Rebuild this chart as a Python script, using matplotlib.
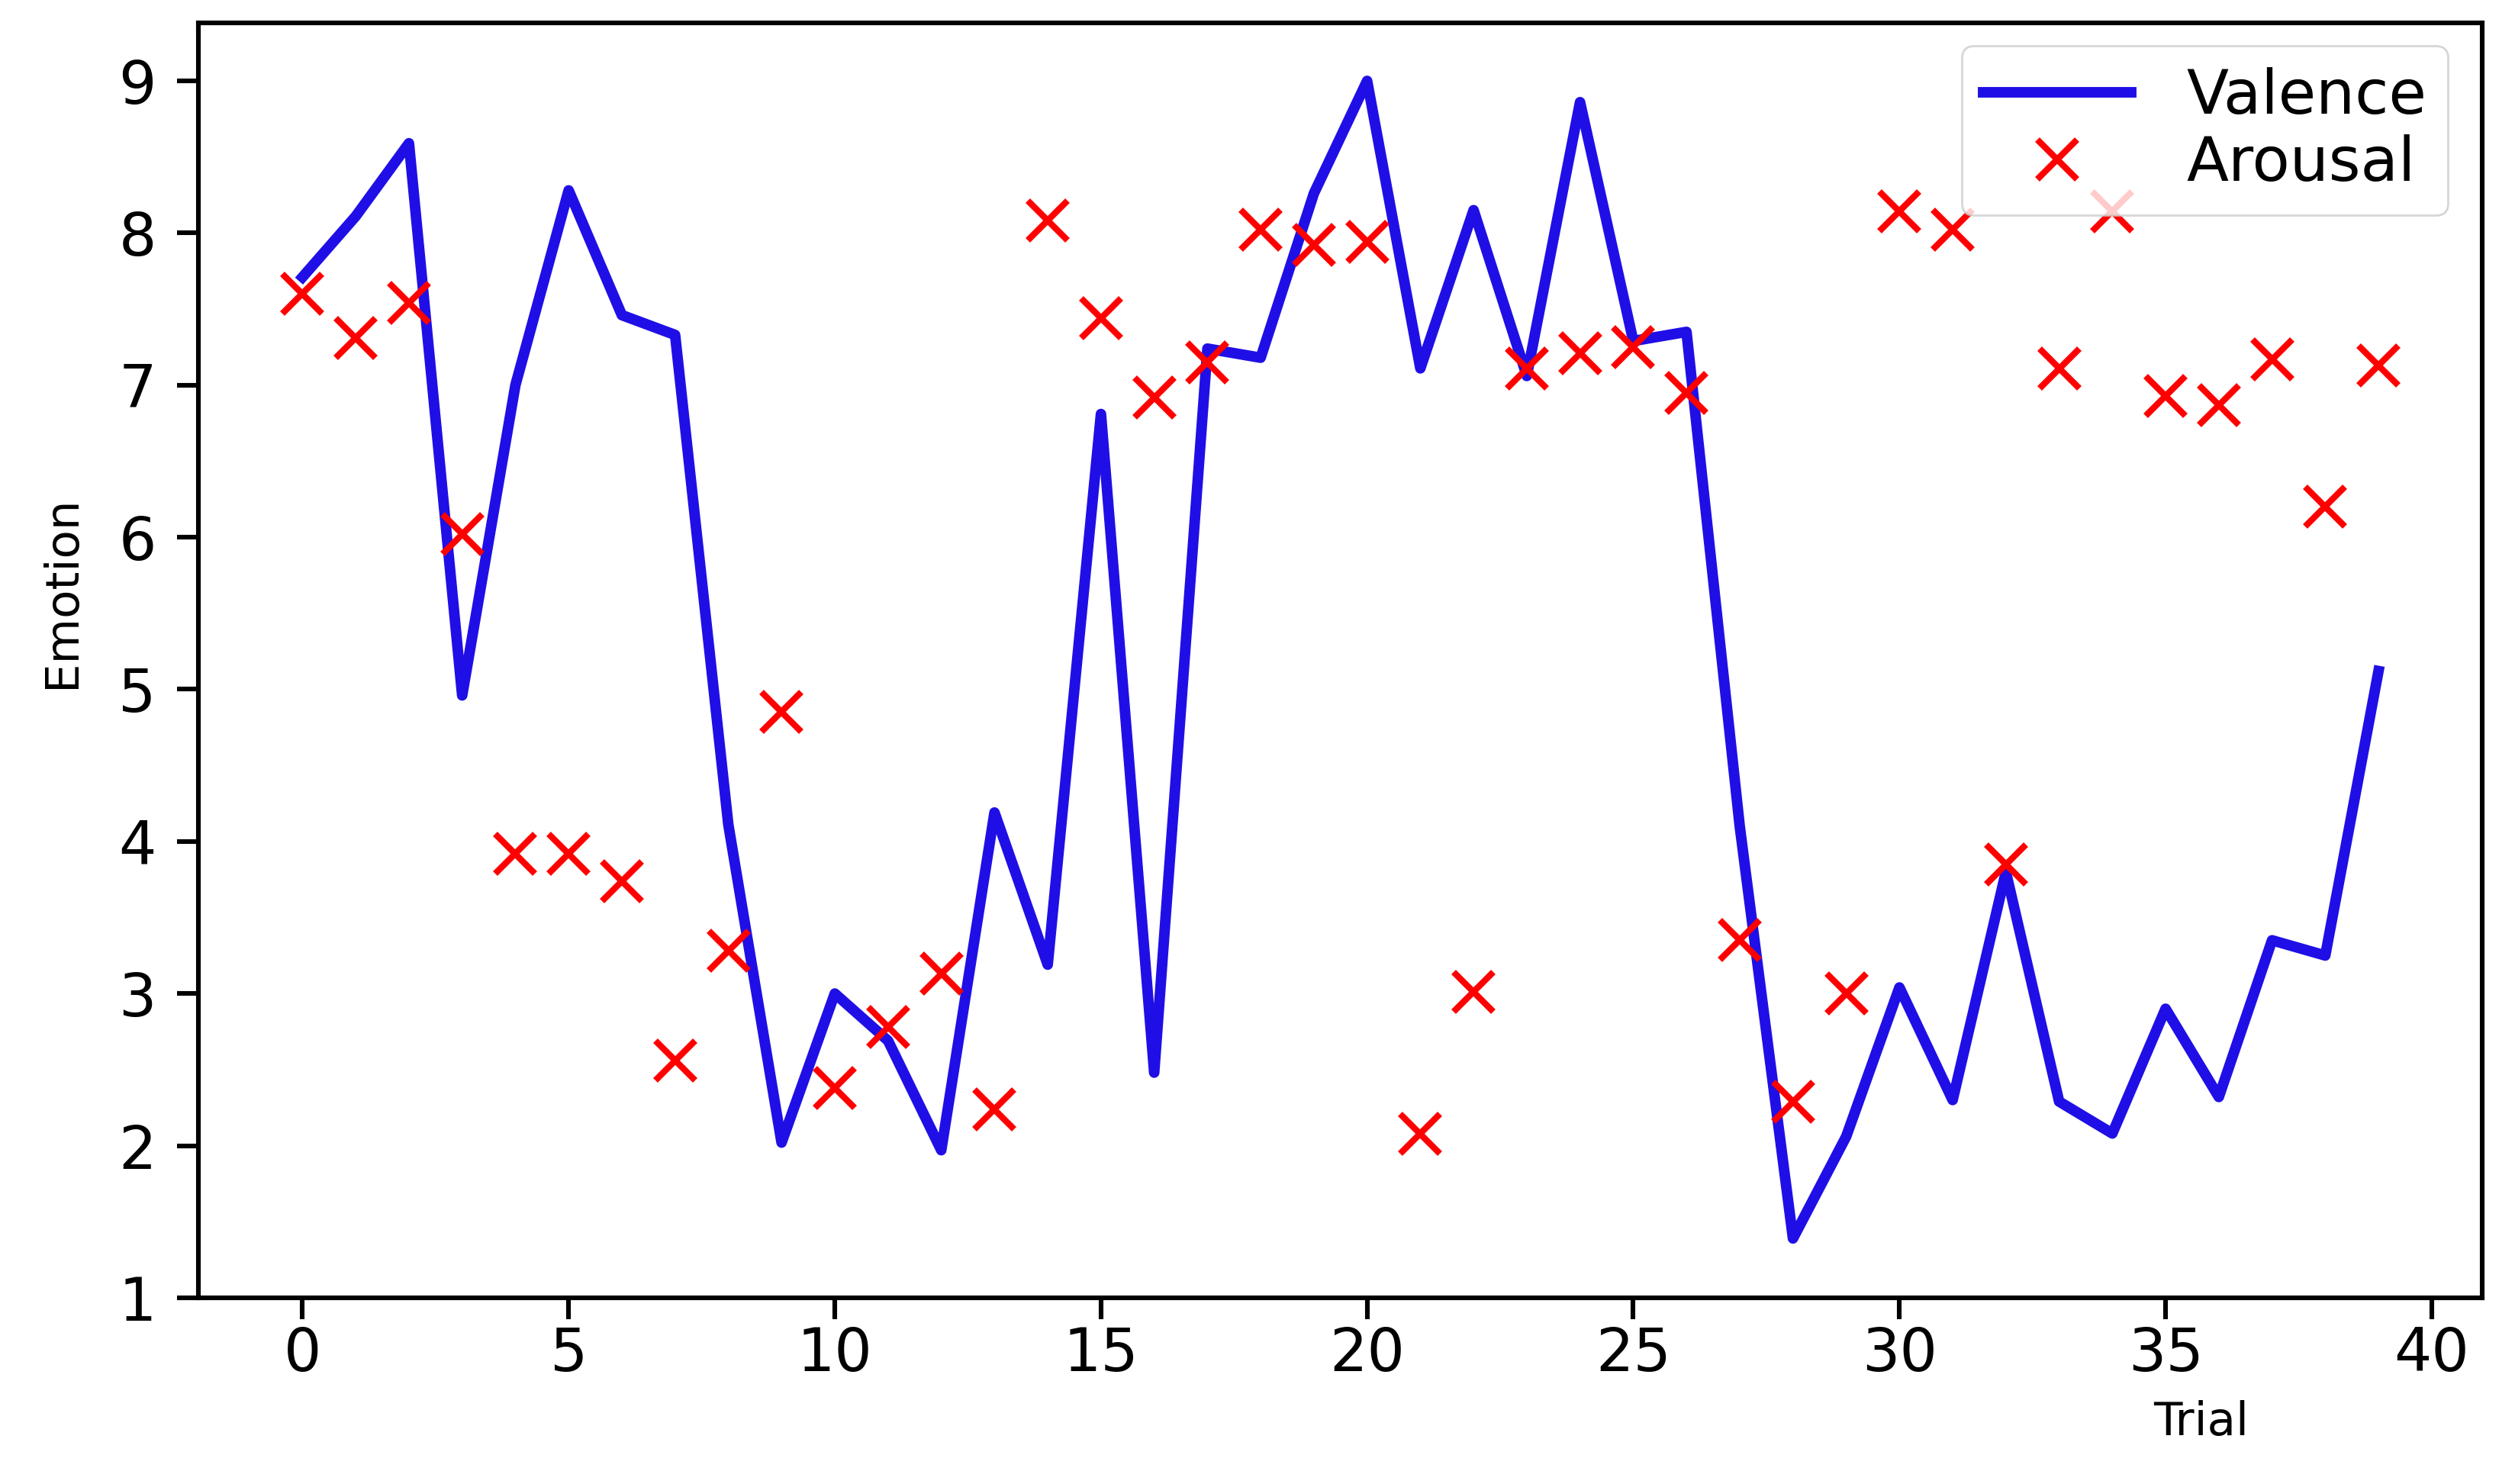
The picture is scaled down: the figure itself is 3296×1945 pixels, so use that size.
import matplotlib.pyplot as plt
import numpy as np

trial = np.arange(40)

valence = [7.71, 8.11, 8.59, 4.96, 7.00, 8.28, 7.46, 7.33, 4.11, 2.02,
           3.00, 2.69, 1.97, 4.19, 3.19, 6.81, 2.48, 7.24, 7.18, 8.26,
           9.00, 7.11, 8.15, 7.06, 8.86, 7.29, 7.35, 4.10, 1.39, 2.06,
           3.04, 2.30, 3.80, 2.29, 2.08, 2.90, 2.32, 3.35, 3.25, 5.12]

arousal = [7.60, 7.31, 7.54, 6.02, 3.92, 3.92, 3.74, 2.56, 3.28, 4.85,
           2.38, 2.78, 3.13, 2.24, 8.08, 7.44, 6.92, 7.15, 8.02, 7.92,
           7.94, 2.08, 3.01, 7.11, 7.21, 7.25, 6.95, 3.35, 2.29, 3.00,
           8.14, 8.02, 3.85, 7.11, 8.14, 6.93, 6.87, 7.17, 6.20, 7.13]

fig = plt.figure(figsize=(16.48, 9.725), dpi=200)
ax = fig.add_axes([0.079, 0.1255, 0.908, 0.859])

ax.plot(trial, valence, color='#1f0fe6', lw=5, label='Valence')
ax.plot(trial, arousal, 'x', color='red', ms=19, mew=3, label='Arousal')

ax.set_xticks([0, 5, 10, 15, 20, 25, 30, 35, 40])
ax.set_yticks([1, 2, 3, 4, 5, 6, 7, 8, 9])
ax.tick_params(labelsize=28, length=10, width=2.2, pad=10)
ax.tick_params(axis='x', pad=3)
for s in ax.spines.values():
    s.set_linewidth(2.2)

ax.set_xlabel('Trial', fontsize=22)
ax.set_ylabel('Emotion', fontsize=22)
ax.xaxis.set_label_coords(0.877, -0.08)
ax.yaxis.set_label_coords(-0.05, 0.554)

ax.legend(loc='upper right', fontsize=29, handlelength=2.4, handletextpad=0.9,
          borderpad=0.35, labelspacing=0.12, fancybox=True, borderaxespad=0,
          bbox_to_anchor=(0.985, 0.982))

fig.savefig('out.png')
